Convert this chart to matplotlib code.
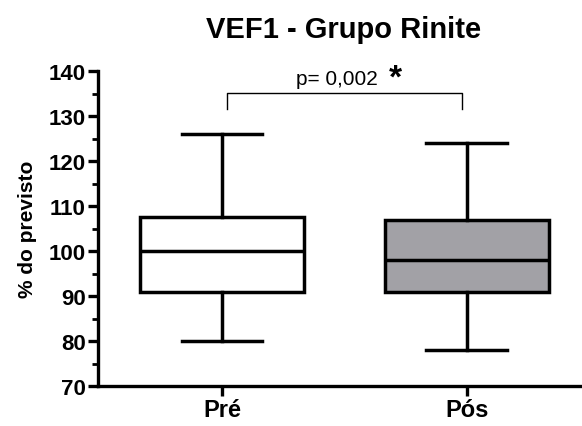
import matplotlib
matplotlib.use("Agg")
import matplotlib.pyplot as plt
from matplotlib.ticker import MultipleLocator

plt.rcParams['font.family'] = ['Liberation Sans', 'DejaVu Sans']

groups = ["Pré", "Pós"]
whisker_low = [80, 78]
q1 = [91, 91]
median = [100, 98]
q3 = [107.5, 107]
whisker_high = [126, 124]
fills = ["white", "#a2a1a6"]
p_text = "p= 0,002"

fig = plt.figure(figsize=(5.82, 4.27), dpi=100)
ax = fig.add_axes([98/582, 1-387/427, 1-98/582, (387-72)/427])

stats = []
for i, g in enumerate(groups):
    stats.append(dict(label=g, whislo=whisker_low[i], q1=q1[i], med=median[i],
                      q3=q3[i], whishi=whisker_high[i], fliers=[]))

lw = 2.5
bp = ax.bxp(stats, positions=[0, 1], widths=0.67, patch_artist=True,
            showfliers=False,
            boxprops=dict(linewidth=lw, edgecolor='black'),
            medianprops=dict(linewidth=lw, color='black'),
            whiskerprops=dict(linewidth=lw, color='black'),
            capprops=dict(linewidth=lw, color='black'),
            capwidths=0.33)
for patch, c in zip(bp['boxes'], fills):
    patch.set_facecolor(c)

ax.set_xlim(-0.506, 1.47)
ax.set_ylim(70, 140)
ax.yaxis.set_major_locator(MultipleLocator(10))
ax.yaxis.set_minor_locator(MultipleLocator(5))
ax.set_xticks([0, 1])
ax.set_xticklabels(groups, fontsize=17, fontweight='bold')
for lbl in ax.get_yticklabels():
    lbl.set_fontsize(16)
    lbl.set_fontweight('bold')

for s in ['top', 'right']:
    ax.spines[s].set_visible(False)
for s in ['left', 'bottom']:
    ax.spines[s].set_linewidth(2.4)
ax.tick_params(axis='both', which='major', width=2.4, length=7, pad=2)
ax.tick_params(axis='y', which='minor', width=2.0, length=4)
ax.set_ylabel("% do previsto", fontsize=15, fontweight='bold', labelpad=8)

# significance bracket
ax.plot([0.02, 0.02, 0.98, 0.98], [131.5, 135.2, 135.2, 131.5], color='black',
        lw=1.0, clip_on=False)
ax.text(0.47, 136.2, p_text, ha='center', va='bottom', fontsize=15)
ax.text(0.71, 135.0, "*", ha='center', va='bottom', fontsize=24, fontweight='bold')

fig.text(344/582, 1-30/427, "VEF1 - Grupo Rinite", ha='center', va='center',
         fontsize=21, fontweight='bold')

fig.savefig("out.png", dpi=100)
